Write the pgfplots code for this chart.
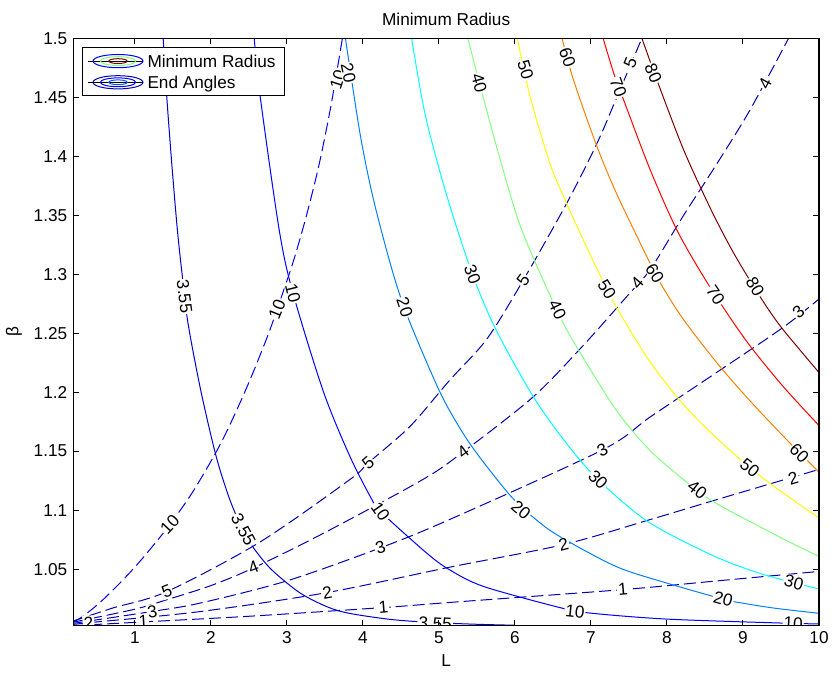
\documentclass[border=0pt]{standalone}
\usepackage{fontspec}
\setmainfont{Liberation Sans}
\usepackage{pgfplots}
\pgfplotsset{compat=1.18}
\newcommand\ff{\fontsize{8.6}{10}\selectfont}
% jet-like contour colours
\definecolor{r355}{rgb}{0,0,0.8}
\definecolor{r10}{rgb}{0,0,1}
\definecolor{r20}{rgb}{0,0.5,1}
\definecolor{r30}{rgb}{0,1,1}
\definecolor{r40}{rgb}{0.5,1,0.5}
\definecolor{r50}{rgb}{1,1,0}
\definecolor{r60}{rgb}{1,0.5,0}
\definecolor{r70}{rgb}{1,0,0}
\definecolor{r80}{rgb}{0.5,0,0}
\definecolor{ang}{rgb}{0,0,0.7}
\definecolor{ang10}{rgb}{0,0,0.95}
\tikzset{clab/.style={fill=white, inner sep=0.5pt, font=\ff}}
\pgfplotsset{
  rad/.style={line width=0.5pt, smooth, tension=0.5, forget plot},
  angle/.style={line width=0.5pt, smooth, tension=0.5, forget plot, dash pattern=on 6pt off 2.5pt},
}
\begin{document}
\ff
\begin{tikzpicture}
\useasboundingbox (-36.65pt,-23.65pt) rectangle (379.85pt,312.85pt);
\begin{axis}[
  at={(0,0)}, anchor=south west, scale only axis,
  width=372.85pt, height=293.7pt,
  xmin=0.19, xmax=10, ymin=1.002, ymax=1.5,
  xtick={1,2,3,4,5,6,7,8,9,10},
  ytick={1.05,1.1,1.15,1.2,1.25,1.3,1.35,1.4,1.45,1.5},
  yticklabels={1.05,1.1,1.15,1.2,1.25,1.3,1.35,1.4,1.45,1.5},
  /pgf/number format/assume math mode=true,
  ticklabel style={font=\ff},
  tick align=inside, major tick length=3pt,
  tick style={black, line width=0.5pt},
  axis line style={black, line width=0.6pt},
  axis on top,
  title={Minimum Radius},
  title style={font=\ff, at={(axis description cs:0.5,1.0329)}, anchor=center, yshift=-6pt},
  xlabel={L},
  xlabel style={font=\ff, at={(axis description cs:0.5,-0.0586)}, anchor=center},
  ylabel={β},
  ylabel style={font=\ff, at={(axis description cs:-0.0795,0.5)}, anchor=center},
  legend cell align=left,
  legend style={at={(axis description cs:0.01167,0.9852)}, anchor=north west,
    draw=black, line width=0.5pt, fill=white, inner xsep=2.5pt, inner ysep=1.5pt,
    row sep=0pt,
    nodes={inner xsep=2pt, inner ysep=2.3pt, text height=6pt, text depth=0pt, font=\ff}},
]
\addlegendimage{legend image code/.code={
  \path (0pt,0pt) -- (27.5pt,0pt);
  \draw[r10, line width=0.5pt] (15pt,0pt) ellipse [x radius=12.5pt, y radius=3.3pt];
  \draw[r40, line width=0.5pt] (15pt,0pt) ellipse [x radius=8.8pt, y radius=2.2pt];
  \draw[r80, line width=0.5pt] (15pt,0pt) ellipse [x radius=4.6pt, y radius=1.2pt];
}}
\addlegendentry{Minimum Radius}
\addlegendimage{legend image code/.code={
  \path (0pt,0pt) -- (27.5pt,0pt);
  \draw[ang, line width=0.5pt] (15pt,0pt) ellipse [x radius=12.5pt, y radius=3.3pt];
  \draw[r10, line width=0.5pt] (15pt,0pt) ellipse [x radius=8.8pt, y radius=2.2pt];
  \draw[r20!70!blue, line width=0.5pt] (15pt,0pt) ellipse [x radius=4.6pt, y radius=1.2pt];
}}
\addlegendentry{End Angles}

% ---- End Angles (dashed) ----
\addplot[angle, ang10] coordinates {
  (0.19,1.005) (0.34,1.011) (0.58,1.024) (0.87,1.0426) (1.13,1.0613) (1.46,1.0877)
  (1.76,1.1153) (2.08,1.1505) (2.29,1.1778) (2.51,1.2097) (2.74,1.2465) (2.87,1.27)
  (3.08,1.31) (3.25,1.348) (3.42,1.392) (3.58,1.443) (3.73,1.5)
};
\addplot[angle, ang] coordinates {
  (0.19,1.006) (0.71,1.017) (1.42,1.0309) (2.64,1.0727) (3.83,1.126) (4.07,1.140)
  (4.62,1.171) (5.14,1.21) (5.63,1.245) (6.11,1.295) (6.68,1.36) (7.08,1.411)
  (7.34,1.45) (7.67,1.5)
};
\addplot[angle, ang] coordinates {
  (0.19,1.005) (1.0,1.016) (1.42,1.024) (2.0,1.036) (2.56,1.051) (3.5,1.081)
  (4.79,1.126) (5.32,1.1494) (6.24,1.196) (6.89,1.239) (7.47,1.281) (7.78,1.304)
  (8.21,1.349) (8.66,1.394) (9.09,1.439) (9.6,1.5)
};
\addplot[angle, ang] coordinates {
  (0.19,1.004) (1.23,1.0141) (1.86,1.0212) (3.0,1.040) (4.23,1.068) (5.14,1.092)
  (7.15,1.151) (7.78,1.179) (8.66,1.217) (9.53,1.255) (10,1.279)
};
\addplot[angle, ang] coordinates {
  (0.19,1.003) (0.39,1.0045) (1.86,1.014) (3.53,1.0301) (5.14,1.0516) (6.64,1.0708)
  (7.78,1.092) (8.66,1.109) (10,1.1345)
};
\addplot[angle, ang] coordinates {
  (0.19,1.002) (1.11,1.0052) (2.5,1.010) (4.27,1.0174) (5.2,1.022) (7.42,1.0326)
  (8.66,1.040) (10,1.048)
};

% ---- Minimum Radius (solid) ----
\addplot[rad, r355] coordinates {
  (1.372,1.5) (1.42,1.45) (1.49,1.39) (1.56,1.337) (1.625,1.298) (1.70,1.258)
  (1.87,1.2005) (2.07,1.1454) (2.25,1.1087) (2.42,1.0833) (2.56,1.068) (2.80,1.0494)
  (3.17,1.0299) (3.53,1.018) (3.82,1.0125) (4.38,1.0072) (4.92,1.0047) (5.5,1.0032)
  (6.0,1.0024)
};
\addplot[rad, r10] coordinates {
  (2.57,1.5) (2.65,1.45) (2.90,1.337) (3.08,1.284) (3.48,1.2005) (3.83,1.1454)
  (4.12,1.1087) (4.23,1.0988) (4.84,1.0635) (5.14,1.0494) (5.59,1.0352) (6.60,1.0172)
  (6.99,1.0127) (8.0,1.0076) (9.53,1.0042) (10,1.0035)
};
\addplot[rad, r20] coordinates {
  (3.77,1.5) (3.96,1.42) (4.14,1.363) (4.40,1.30) (4.61,1.2605) (5.01,1.2005)
  (5.29,1.168) (5.53,1.1454) (5.95,1.1115) (6.28,1.0918) (6.59,1.0776) (7.33,1.0522)
  (8.0,1.0381) (8.74,1.0245) (8.96,1.0215) (9.4,1.017) (9.97,1.0127) (10,1.0125)
};
\addplot[rad, r30] coordinates {
  (4.64,1.5) (4.78,1.4476) (4.90,1.4138) (5.12,1.363) (5.44,1.30) (5.75,1.253)
  (6.24,1.1963) (6.675,1.1568) (7.095,1.1257) (7.755,1.09) (8.63,1.0607) (9.28,1.0452)
  (9.95,1.0339) (10,1.0332)
};
\addplot[rad, r40] coordinates {
  (5.38,1.5) (5.58,1.4505) (5.82,1.394) (6.09,1.3375) (6.55,1.2697) (6.81,1.2386)
  (7.33,1.185) (7.77,1.151) (8.28,1.1226) (8.64,1.106) (9.47,1.0776) (10,1.0607)
};
\addplot[rad, r50] coordinates {
  (6.03,1.5) (6.20,1.4505) (6.46,1.394) (6.68,1.36) (6.94,1.3234) (7.15,1.2952)
  (7.33,1.2725) (7.76,1.2273) (8.20,1.1907) (8.63,1.1624) (9.09,1.136) (9.47,1.1172)
  (9.97,1.0946) (10,1.0935)
};
\addplot[rad, r60] coordinates {
  (6.62,1.5) (6.77,1.4647) (7.08,1.4081) (7.355,1.3658) (7.80,1.3064) (7.94,1.2895)
  (8.22,1.2613) (8.66,1.2246) (9.08,1.1935) (9.54,1.162) (9.97,1.1341) (10,1.1325)
};
\addplot[rad, r70] coordinates {
  (7.16,1.5) (7.30,1.4703) (7.43,1.4477) (7.78,1.3884) (8.13,1.3375) (8.48,1.298)
  (8.79,1.267) (9.10,1.2386) (9.53,1.2047) (9.97,1.1737) (10,1.1717)
};
\addplot[rad, r80] coordinates {
  (7.67,1.5) (7.90,1.459) (8.22,1.4053) (8.56,1.3573) (8.83,1.3234) (9.06,1.298)
  (9.31,1.2725) (9.53,1.2528) (9.97,1.2189) (10,1.2167)
};

% ---- contour labels: End Angles ----
\node[clab, rotate=47] at (axis cs:1.46,1.0877) {10};
\node[clab, rotate=68] at (axis cs:2.87,1.27) {10};
\node[clab, rotate=72] at (axis cs:3.67,1.4646) {10};
\node[clab, rotate=22] at (axis cs:1.42,1.0309) {5};
\node[clab, rotate=41] at (axis cs:4.07,1.140) {5};
\node[clab, rotate=54] at (axis cs:6.11,1.295) {5};
\node[clab, rotate=67] at (axis cs:7.52,1.479) {5};
\node[clab, rotate=21] at (axis cs:2.56,1.0512) {4};
\node[clab, rotate=37] at (axis cs:5.32,1.1494) {4};
\node[clab, rotate=49] at (axis cs:7.61,1.2926) {4};
\node[clab, rotate=62] at (axis cs:9.29,1.462) {4};
\node[clab, rotate=10] at (axis cs:1.23,1.0141) {3};
\node[clab, rotate=17] at (axis cs:4.23,1.068) {3};
\node[clab, rotate=27] at (axis cs:7.15,1.151) {3};
\node[clab, rotate=40] at (axis cs:9.73,1.268) {3};
\node[clab, rotate=5] at (axis cs:0.39,1.0045) {2};
\node[clab, rotate=10] at (axis cs:3.53,1.0301) {2};
\node[clab, rotate=14] at (axis cs:6.64,1.0708) {2};
\node[clab, rotate=17] at (axis cs:9.66,1.1272) {2};
\node[clab, rotate=3] at (axis cs:1.11,1.0055) {1};
\node[clab, rotate=5] at (axis cs:4.27,1.0174) {1};
\node[clab, rotate=5] at (axis cs:7.42,1.0326) {1};

% ---- contour labels: Minimum Radius ----
\node[clab, rotate=-83] at (axis cs:1.655,1.281) {3.55};
\node[clab, rotate=-62] at (axis cs:2.43,1.0833) {3.55};
\node[clab, rotate=-4] at (axis cs:4.95,1.0039) {3.55};
\node[clab, rotate=-76] at (axis cs:3.08,1.284) {10};
\node[clab, rotate=-55] at (axis cs:4.23,1.0988) {10};
\node[clab, rotate=-6] at (axis cs:6.79,1.0142) {10};
\node[clab, rotate=-3] at (axis cs:9.66,1.0039) {10};
\node[clab, rotate=-78] at (axis cs:3.81,1.4706) {20};
\node[clab, rotate=-72] at (axis cs:4.55,1.272) {20};
\node[clab, rotate=-40] at (axis cs:6.08,1.1003) {20};
\node[clab, rotate=-15] at (axis cs:8.74,1.0245) {20};
\node[clab, rotate=-70] at (axis cs:5.44,1.300) {30};
\node[clab, rotate=-45] at (axis cs:7.095,1.1257) {30};
\node[clab, rotate=-15] at (axis cs:9.67,1.0385) {30};
\node[clab, rotate=-75] at (axis cs:5.53,1.462) {40};
\node[clab, rotate=-64] at (axis cs:6.56,1.270) {40};
\node[clab, rotate=-38] at (axis cs:8.40,1.117) {40};
\node[clab, rotate=-73] at (axis cs:6.14,1.473) {50};
\node[clab, rotate=-58] at (axis cs:7.21,1.287) {50};
\node[clab, rotate=-39] at (axis cs:9.09,1.136) {50};
\node[clab, rotate=-70] at (axis cs:6.69,1.484) {60};
\node[clab, rotate=-58] at (axis cs:7.84,1.301) {60};
\node[clab, rotate=-45] at (axis cs:9.74,1.148) {60};
\node[clab, rotate=-70] at (axis cs:7.36,1.4587) {70};
\node[clab, rotate=-56] at (axis cs:8.64,1.282) {70};
\node[clab, rotate=-68] at (axis cs:7.82,1.4706) {80};
\node[clab, rotate=-60] at (axis cs:9.16,1.2892) {80};
\end{axis}
\end{tikzpicture}
\end{document}
